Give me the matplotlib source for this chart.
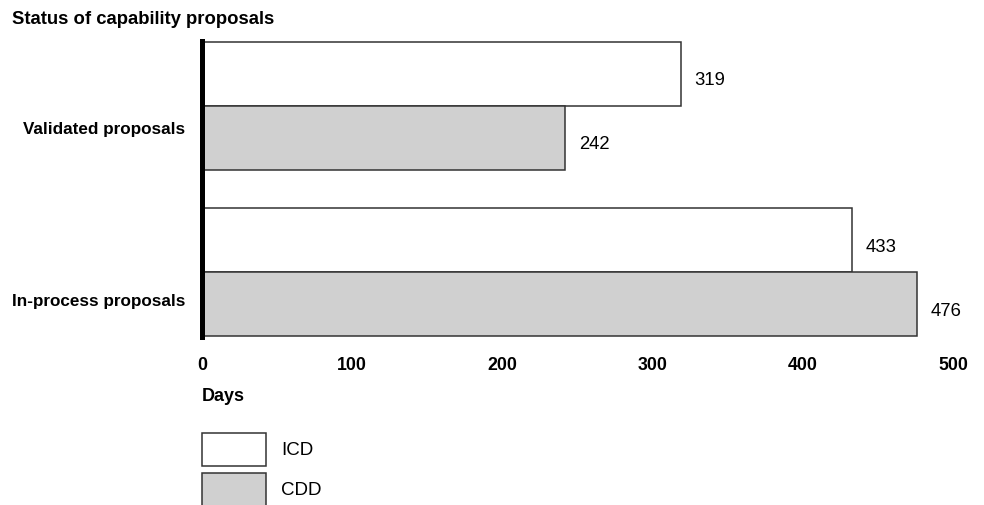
import matplotlib
matplotlib.use("Agg")
import matplotlib.pyplot as plt
from matplotlib.patches import Rectangle
from matplotlib.transforms import ScaledTranslation

plt.rcParams['font.family'] = ['Liberation Sans', 'DejaVu Sans']

categories = ["In-process proposals", "Validated proposals"]
icd_values = [433, 319]
cdd_values = [476, 242]
series_names = ["ICD", "CDD"]
xticks = [0, 100, 200, 300, 400, 500]

W, H = 984, 506
fig = plt.figure(figsize=(W / 100, H / 100), dpi=100)
ax = fig.add_axes([202 / W, (H - 338) / H, (953 - 202) / W, (338 - 42) / H])

h = 0.386
ypos = list(range(len(categories)))
icd_color = "white"
cdd_color = "#d0d0d0"
edge = "#333333"
ax.barh([y + h / 2 for y in ypos], icd_values, height=h, color=icd_color, edgecolor=edge, linewidth=1.1)
ax.barh([y - h / 2 for y in ypos], cdd_values, height=h, color=cdd_color, edgecolor=edge, linewidth=1.1)

for y, v in zip(ypos, icd_values):
    ax.annotate(str(v), xy=(v, y + h / 2), xytext=(9.7, -4.3), textcoords="offset points",
                va="center", ha="left", fontsize=13.3)
for y, v in zip(ypos, cdd_values):
    ax.annotate(str(v), xy=(v, y - h / 2), xytext=(9.7, -4.3), textcoords="offset points",
                va="center", ha="left", fontsize=13.3)

ax.set_xlim(0, 500)
ax.set_ylim(-0.39, 1.39)
ax.set_xticks(xticks)
ax.set_xticklabels([str(t) for t in xticks], fontweight="bold", fontsize=12.8)
ax.set_yticks(ypos)
ax.set_yticklabels(categories, fontweight="bold", fontsize=12.3)
ax.tick_params(axis="x", length=0, pad=14)
ax.tick_params(axis="y", length=0, pad=12)
# labels sit a little below the group centres in the reference
label_shift_px = [27, 21]
for lab, dy in zip(ax.get_yticklabels(), label_shift_px):
    lab.set_transform(lab.get_transform() + ScaledTranslation(0, -dy / 100, fig.dpi_scale_trans))
for s in ["top", "right", "bottom"]:
    ax.spines[s].set_visible(False)
ax.spines["left"].set_linewidth(3.6)
ax.spines["left"].set_color("black")

fig.text(12 / W, (H - 20) / H, "Status of capability proposals", fontweight="bold", fontsize=13.3, ha="left", va="center")
fig.text(202 / W, (H - 397) / H, "Days", fontweight="bold", fontsize=13, ha="left", va="center")

# legend
leg_colors = [icd_color, cdd_color]
for i, (name, c) in enumerate(zip(series_names, leg_colors)):
    top = 434 + i * 40
    fig.add_artist(Rectangle((202 / W, (H - top - 33) / H), 64 / W, 33 / H,
                             transform=fig.transFigure, facecolor=c, edgecolor=edge, linewidth=1.1))
    fig.text(281 / W, (H - top - 17) / H, name, fontsize=13.5, ha="left", va="center")

fig.savefig("out.png", dpi=100, facecolor="white")
